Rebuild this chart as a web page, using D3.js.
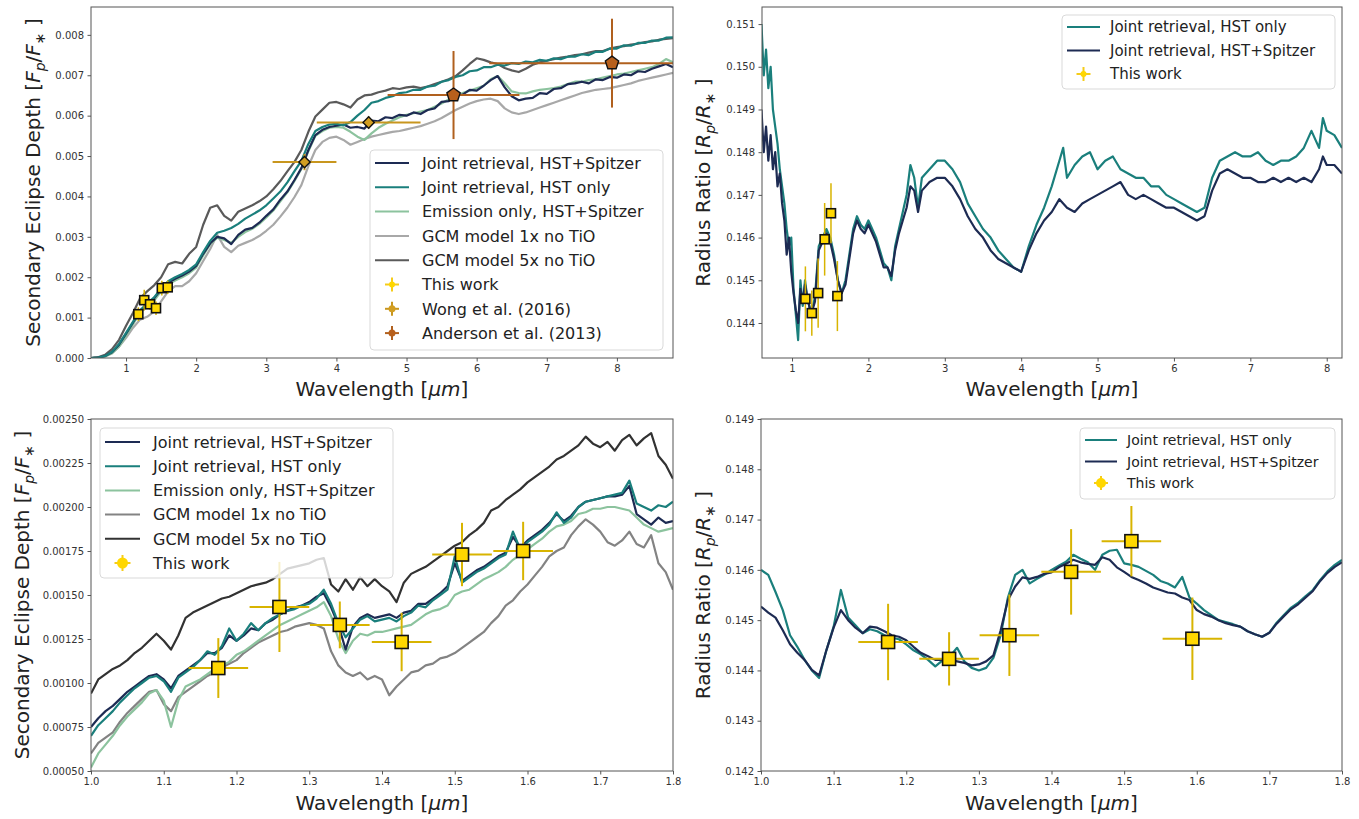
<!DOCTYPE html>
<html><head><meta charset="utf-8">
<script src="https://cdn.jsdelivr.net/npm/d3@7"></script>
<style>body{margin:0;background:#fff;} text{font-family:"DejaVu Sans",sans-serif;}</style>
</head><body>
<script>
// ---------------- DATA ----------------
// Top-left: secondary eclipse depth, full range
const tlWave = [0.5,0.6,0.7,0.8,0.9,1.0,1.1,1.2,1.3,1.4,
1.5,1.6,1.7,1.8,1.9,2.0,2.1,2.2,2.3,2.4,
2.5,2.6,2.7,2.8,2.9,3.0,3.1,3.2,3.3,3.4,
3.5,3.6,3.7,3.8,3.9,4.0,4.1,4.2,4.3,4.4,
4.5,4.6,4.7,4.8,4.9,5.0,5.1,5.2,5.3,5.4,
5.5,5.6,5.7,5.8,5.9,6.0,6.1,6.2,6.3,6.4,
6.5,6.6,6.7,6.8,6.9,7.0,7.1,7.2,7.3,7.4,
7.5,7.6,7.7,7.8,7.9,8.0,8.1,8.2,8.3,8.4,
8.5,8.6,8.7,8.8];
const tlJointHSTSpitzer = [0.00000,0.00001,0.00005,0.00014,0.00033,0.00060,0.00088,0.00116,0.00133,0.00148,
0.00170,0.00186,0.00196,0.00204,0.00214,0.00228,0.00258,0.00284,0.00300,0.00296,
0.00282,0.00305,0.00318,0.00322,0.00335,0.00352,0.00368,0.00392,0.00412,0.00440,
0.00470,0.00515,0.00552,0.00565,0.00572,0.00575,0.00578,0.00570,0.00572,0.00568,
0.00588,0.00586,0.00596,0.00594,0.00602,0.00600,0.00608,0.00604,0.00614,0.00618,
0.00634,0.00636,0.00650,0.00652,0.00664,0.00662,0.00674,0.00688,0.00698,0.00670,
0.00648,0.00638,0.00642,0.00644,0.00656,0.00654,0.00666,0.00668,0.00678,0.00680,
0.00684,0.00680,0.00690,0.00688,0.00696,0.00694,0.00702,0.00700,0.00710,0.00708,
0.00716,0.00722,0.00728,0.00720];
const tlJointHSTOnly = [0.00000,0.00001,0.00005,0.00015,0.00035,0.00062,0.00090,0.00118,0.00135,0.00150,
0.00172,0.00190,0.00200,0.00208,0.00218,0.00232,0.00262,0.00290,0.00310,0.00315,
0.00322,0.00332,0.00345,0.00355,0.00365,0.00378,0.00395,0.00412,0.00435,0.00462,
0.00488,0.00530,0.00562,0.00572,0.00578,0.00580,0.00576,0.00584,0.00600,0.00614,
0.00632,0.00636,0.00644,0.00648,0.00656,0.00658,0.00664,0.00664,0.00672,0.00674,
0.00684,0.00688,0.00696,0.00700,0.00710,0.00712,0.00720,0.00720,0.00726,0.00724,
0.00730,0.00728,0.00734,0.00732,0.00738,0.00736,0.00742,0.00740,0.00746,0.00746,
0.00752,0.00750,0.00758,0.00758,0.00766,0.00766,0.00774,0.00773,0.00780,0.00780,
0.00786,0.00786,0.00793,0.00794];
const tlEmissionOnly = [0.00000,0.00001,0.00004,0.00012,0.00028,0.00055,0.00084,0.00112,0.00128,0.00142,
0.00165,0.00182,0.00192,0.00200,0.00210,0.00224,0.00254,0.00282,0.00298,0.00292,
0.00285,0.00300,0.00312,0.00320,0.00332,0.00348,0.00365,0.00388,0.00410,0.00438,
0.00468,0.00512,0.00550,0.00562,0.00570,0.00572,0.00570,0.00560,0.00548,0.00540,
0.00556,0.00570,0.00580,0.00588,0.00596,0.00602,0.00606,0.00610,0.00614,0.00622,
0.00630,0.00640,0.00648,0.00656,0.00662,0.00668,0.00674,0.00690,0.00698,0.00680,
0.00660,0.00656,0.00655,0.00660,0.00664,0.00666,0.00668,0.00672,0.00678,0.00684,
0.00684,0.00688,0.00690,0.00694,0.00698,0.00702,0.00704,0.00708,0.00712,0.00716,
0.00720,0.00728,0.00740,0.00732];
const tlGCM1x = [0.00000,0.00001,0.00004,0.00012,0.00028,0.00050,0.00075,0.00095,0.00102,0.00115,
0.00140,0.00165,0.00178,0.00178,0.00190,0.00210,0.00240,0.00270,0.00305,0.00275,
0.00262,0.00278,0.00285,0.00292,0.00302,0.00315,0.00330,0.00350,0.00372,0.00398,
0.00428,0.00475,0.00515,0.00535,0.00545,0.00548,0.00540,0.00528,0.00535,0.00542,
0.00548,0.00552,0.00556,0.00560,0.00562,0.00566,0.00570,0.00574,0.00580,0.00586,
0.00594,0.00604,0.00614,0.00622,0.00630,0.00636,0.00640,0.00642,0.00636,0.00618,
0.00608,0.00604,0.00608,0.00614,0.00620,0.00626,0.00632,0.00638,0.00644,0.00650,
0.00656,0.00660,0.00664,0.00666,0.00668,0.00672,0.00676,0.00680,0.00686,0.00690,
0.00694,0.00698,0.00702,0.00706];
const tlGCM5x = [0.00000,0.00002,0.00008,0.00022,0.00045,0.00080,0.00112,0.00148,0.00165,0.00180,
0.00200,0.00232,0.00238,0.00234,0.00258,0.00275,0.00330,0.00372,0.00378,0.00352,
0.00340,0.00362,0.00370,0.00378,0.00388,0.00400,0.00418,0.00438,0.00462,0.00485,
0.00515,0.00560,0.00598,0.00615,0.00632,0.00634,0.00628,0.00620,0.00640,0.00650,
0.00652,0.00658,0.00662,0.00668,0.00666,0.00670,0.00672,0.00668,0.00672,0.00678,
0.00684,0.00690,0.00698,0.00712,0.00728,0.00742,0.00738,0.00732,0.00728,0.00718,
0.00712,0.00708,0.00716,0.00726,0.00732,0.00736,0.00740,0.00744,0.00746,0.00750,
0.00752,0.00756,0.00760,0.00760,0.00766,0.00770,0.00772,0.00776,0.00778,0.00782,
0.00784,0.00788,0.00790,0.00792];

// Observations
const thisWorkWave = [1.175,1.259,1.342,1.427,1.510,1.594];
const thisWorkWaveErr = [0.041,0.041,0.041,0.041,0.041,0.041];
const thisWorkDepth = [0.001085,0.001432,0.001330,0.001233,0.001730,0.001750];
const thisWorkDepthErr = [0.000170,0.000256,0.000133,0.000166,0.000180,0.000166];
const thisWorkRadius = [0.144565,0.144230,0.144700,0.145960,0.146570,0.144630];
const thisWorkRadiusErr = [0.00076,0.00053,0.00081,0.00085,0.00070,0.00082];
const wongWave = [3.545,4.46];
const wongWaveErr = [0.455,0.74];
const wongDepth = [0.00485,0.00583];
const wongDepthErr = [0.00020,0.00015];
const andersonWave = [5.67,7.93];
const andersonWaveErr = [0.94,1.75];
const andersonDepth = [0.00651,0.00730];
const andersonDepthErr = [0.00109,0.00110];

// Top-right: radius ratio, full range
const trWave = [0.60,0.63,0.66,0.69,0.72,0.75,0.78,0.81,0.84,0.87,
0.90,0.93,0.96,0.99,1.02,1.05,1.08,1.11,1.14,1.17,
1.20,1.25,1.30,1.35,1.40,1.45,1.50,1.55,1.60,1.65,
1.70,1.75,1.80,1.85,1.90,1.95,2.00,2.05,2.10,2.15,
2.20,2.25,2.30,2.35,2.40,2.45,2.50,2.55,2.60,2.65,
2.70,2.80,2.90,3.00,3.10,3.20,3.30,3.40,3.50,3.60,
3.70,3.80,3.90,4.00,4.10,4.20,4.30,4.40,4.50,4.55,
4.60,4.70,4.80,4.90,5.00,5.10,5.20,5.30,5.40,5.50,
5.60,5.70,5.80,5.90,6.00,6.10,6.20,6.30,6.40,6.50,
6.60,6.70,6.80,6.90,7.00,7.10,7.20,7.30,7.40,7.50,
7.60,7.70,7.80,7.90,7.95,8.00,8.10,8.20];
const trJointHSTOnly = [0.1510,0.1498,0.1504,0.1495,0.1500,0.1490,0.1486,0.1482,0.1476,0.1472,
0.1468,0.1462,0.1458,0.1460,0.1448,0.1442,0.1436,0.1450,0.1444,0.1450,
0.1446,0.1442,0.1446,0.1458,0.1460,0.1462,0.1460,0.1456,0.1450,0.1447,
0.1450,0.1456,0.1462,0.1465,0.1463,0.1462,0.1464,0.1462,0.1460,0.1457,
0.1454,0.1453,0.1450,0.1458,0.1462,0.1466,0.1470,0.1477,0.1474,0.1467,
0.1474,0.1476,0.1478,0.1478,0.1476,0.1473,0.1468,0.1465,0.1462,0.1460,
0.1457,0.1455,0.1453,0.1452,0.1458,0.1463,0.1467,0.1472,0.1478,0.1481,
0.1474,0.1477,0.1479,0.1480,0.1476,0.1478,0.1479,0.1476,0.1475,0.1474,
0.1474,0.1472,0.1472,0.1470,0.1469,0.1468,0.1467,0.1466,0.1467,0.1474,
0.1478,0.1479,0.1480,0.1479,0.1479,0.1480,0.1478,0.1477,0.1478,0.1478,
0.1479,0.1481,0.1485,0.1481,0.1488,0.1485,0.1484,0.1481];
const trJointHSTSpitzer = [0.1490,0.1480,0.1486,0.1478,0.1484,0.1476,0.1480,0.1472,0.1475,0.1468,
0.1464,0.1456,0.1460,0.1452,0.1447,0.1443,0.1440,0.1448,0.1445,0.1449,
0.1446,0.1442,0.1445,0.1457,0.1459,0.1461,0.1459,0.1455,0.1450,0.1447,
0.1449,0.1455,0.1461,0.1464,0.1462,0.1461,0.1463,0.1461,0.1459,0.1456,
0.1453,0.1453,0.1451,0.1457,0.1461,0.1464,0.1467,0.1472,0.1471,0.1466,
0.1471,0.1473,0.1474,0.1474,0.1472,0.1469,0.1465,0.1462,0.1460,0.1457,
0.1455,0.1454,0.1453,0.1452,0.1457,0.1461,0.1464,0.1466,0.1469,0.1468,
0.1467,0.1466,0.1468,0.1469,0.1470,0.1471,0.1472,0.1473,0.1470,0.1469,
0.1470,0.1469,0.1468,0.1467,0.1467,0.1466,0.1465,0.1464,0.1465,0.1471,
0.1475,0.1476,0.1475,0.1474,0.1474,0.1473,0.1473,0.1474,0.1473,0.1474,
0.1473,0.1474,0.1473,0.1476,0.1479,0.1477,0.1477,0.1475];

// Bottom panels: HST WFC3 range, 0.01 um grid
const bWave = [1.00,1.01,1.02,1.03,1.04,1.05,1.06,1.07,1.08,1.09,
1.10,1.11,1.12,1.13,1.14,1.15,1.16,1.17,1.18,1.19,
1.20,1.21,1.22,1.23,1.24,1.25,1.26,1.27,1.28,1.29,
1.30,1.31,1.32,1.33,1.34,1.35,1.36,1.37,1.38,1.39,
1.40,1.41,1.42,1.43,1.44,1.45,1.46,1.47,1.48,1.49,
1.50,1.51,1.52,1.53,1.54,1.55,1.56,1.57,1.58,1.59,
1.60,1.61,1.62,1.63,1.64,1.65,1.66,1.67,1.68,1.69,
1.70,1.71,1.72,1.73,1.74,1.75,1.76,1.77,1.78,1.79,
1.80];
const blJointHSTSpitzer = [0.00075,0.00080,0.00084,0.00087,0.00091,0.00095,0.00098,0.00101,0.00104,0.00105,
0.00102,0.00097,0.00104,0.00107,0.00110,0.00113,0.00117,0.00117,0.00120,0.00127,
0.00124,0.00127,0.00131,0.00130,0.00134,0.00136,0.00139,0.00141,0.00143,0.00144,
0.00146,0.00149,0.00151,0.00143,0.00133,0.00119,0.00132,0.00137,0.00139,0.00137,
0.00138,0.00139,0.00137,0.00140,0.00141,0.00145,0.00145,0.00148,0.00151,0.00155,
0.00168,0.00158,0.00161,0.00164,0.00166,0.00169,0.00172,0.00174,0.00183,0.00177,
0.00181,0.00184,0.00187,0.00191,0.00196,0.00192,0.00195,0.00200,0.00203,0.00204,
0.00205,0.00206,0.00206,0.00207,0.00212,0.00196,0.00193,0.00190,0.00194,0.00191,
0.00192];
const blJointHSTOnly = [0.00070,0.00076,0.00080,0.00084,0.00089,0.00093,0.00097,0.00100,0.00103,0.00104,
0.00101,0.00095,0.00103,0.00106,0.00109,0.00113,0.00118,0.00116,0.00121,0.00131,
0.00124,0.00128,0.00134,0.00130,0.00134,0.00137,0.00139,0.00141,0.00142,0.00144,
0.00145,0.00148,0.00153,0.00145,0.00134,0.00126,0.00131,0.00136,0.00138,0.00135,
0.00136,0.00137,0.00135,0.00138,0.00140,0.00144,0.00143,0.00147,0.00150,0.00153,
0.00172,0.00157,0.00160,0.00163,0.00165,0.00168,0.00171,0.00173,0.00186,0.00176,
0.00180,0.00183,0.00186,0.00190,0.00197,0.00191,0.00194,0.00200,0.00203,0.00204,
0.00205,0.00206,0.00207,0.00208,0.00215,0.00202,0.00200,0.00198,0.00201,0.00200,
0.00203];
const blEmissionOnly = [0.00052,0.00060,0.00065,0.00070,0.00076,0.00081,0.00085,0.00089,0.00094,0.00096,
0.00090,0.00075,0.00090,0.00098,0.00100,0.00102,0.00105,0.00108,0.00110,0.00112,
0.00116,0.00118,0.00121,0.00124,0.00127,0.00130,0.00133,0.00135,0.00137,0.00139,
0.00141,0.00143,0.00146,0.00138,0.00125,0.00117,0.00124,0.00128,0.00127,0.00129,
0.00129,0.00130,0.00131,0.00132,0.00133,0.00136,0.00139,0.00141,0.00142,0.00144,
0.00150,0.00152,0.00153,0.00156,0.00159,0.00161,0.00163,0.00166,0.00170,0.00173,
0.00176,0.00179,0.00182,0.00186,0.00189,0.00190,0.00192,0.00196,0.00197,0.00199,
0.00199,0.00200,0.00200,0.00199,0.00198,0.00194,0.00190,0.00188,0.00186,0.00187,
0.00188];
const blGCM1x = [0.00060,0.00066,0.00069,0.00072,0.00078,0.00083,0.00087,0.00091,0.00095,0.00096,
0.00088,0.00084,0.00092,0.00095,0.00098,0.00101,0.00104,0.00106,0.00109,0.00111,
0.00113,0.00117,0.00120,0.00123,0.00125,0.00127,0.00129,0.00130,0.00132,0.00133,
0.00134,0.00133,0.00131,0.00118,0.00110,0.00106,0.00104,0.00106,0.00102,0.00104,
0.00102,0.00093,0.00098,0.00102,0.00106,0.00107,0.00110,0.00111,0.00114,0.00115,
0.00117,0.00120,0.00123,0.00126,0.00129,0.00134,0.00138,0.00144,0.00147,0.00152,
0.00156,0.00161,0.00166,0.00172,0.00175,0.00177,0.00184,0.00189,0.00193,0.00190,
0.00186,0.00180,0.00178,0.00181,0.00186,0.00179,0.00177,0.00184,0.00168,0.00163,
0.00153];
const blGCM5x = [0.00094,0.00102,0.00105,0.00108,0.00110,0.00113,0.00117,0.00120,0.00124,0.00128,
0.00124,0.00119,0.00127,0.00137,0.00140,0.00142,0.00144,0.00146,0.00148,0.00149,
0.00151,0.00153,0.00155,0.00156,0.00157,0.00159,0.00162,0.00165,0.00166,0.00167,
0.00168,0.00170,0.00171,0.00156,0.00152,0.00159,0.00153,0.00160,0.00155,0.00159,
0.00155,0.00152,0.00146,0.00157,0.00162,0.00164,0.00166,0.00169,0.00172,0.00175,
0.00178,0.00180,0.00184,0.00187,0.00191,0.00198,0.00200,0.00204,0.00207,0.00210,
0.00214,0.00217,0.00220,0.00223,0.00227,0.00229,0.00232,0.00235,0.00240,0.00236,
0.00234,0.00237,0.00232,0.00238,0.00241,0.00235,0.00239,0.00242,0.00229,0.00224,
0.00216];
const brJointHSTOnly = [0.14600,0.14590,0.14556,0.14520,0.14470,0.14447,0.14421,0.14400,0.14385,0.14440,
0.14487,0.14560,0.14505,0.14490,0.14474,0.14482,0.14478,0.14470,0.14465,0.14462,
0.14452,0.14440,0.14432,0.14421,0.14408,0.14420,0.14428,0.14445,0.14418,0.14405,
0.14400,0.14405,0.14425,0.14470,0.14545,0.14590,0.14600,0.14573,0.14582,0.14590,
0.14600,0.14608,0.14616,0.14630,0.14622,0.14615,0.14600,0.14630,0.14638,0.14640,
0.14613,0.14610,0.14606,0.14598,0.14590,0.14578,0.14573,0.14565,0.14586,0.14545,
0.14533,0.14520,0.14510,0.14500,0.14496,0.14492,0.14487,0.14478,0.14472,0.14467,
0.14475,0.14495,0.14510,0.14525,0.14535,0.14548,0.14560,0.14580,0.14597,0.14610,
0.14620];
const brJointHSTSpitzer = [0.14527,0.14515,0.14505,0.14480,0.14452,0.14435,0.14421,0.14401,0.14390,0.14440,
0.14485,0.14520,0.14500,0.14485,0.14474,0.14487,0.14485,0.14478,0.14470,0.14467,
0.14460,0.14447,0.14435,0.14428,0.14421,0.14421,0.14421,0.14418,0.14415,0.14410,
0.14412,0.14418,0.14430,0.14480,0.14540,0.14567,0.14585,0.14582,0.14586,0.14592,
0.14595,0.14605,0.14612,0.14620,0.14615,0.14612,0.14610,0.14625,0.14620,0.14605,
0.14596,0.14586,0.14580,0.14573,0.14565,0.14560,0.14555,0.14553,0.14545,0.14540,
0.14520,0.14512,0.14507,0.14500,0.14494,0.14490,0.14487,0.14478,0.14472,0.14467,
0.14475,0.14493,0.14508,0.14522,0.14532,0.14545,0.14558,0.14578,0.14594,0.14606,
0.14615];

// Tick values
const tlXTicks = [1,2,3,4,5,6,7,8];
const tlYTicks = [0,0.001,0.002,0.003,0.004,0.005,0.006,0.007,0.008];
const trXTicks = [1,2,3,4,5,6,7,8];
const trYTicks = [0.144,0.145,0.146,0.147,0.148,0.149,0.150,0.151];
const bXTicks = [1.0,1.1,1.2,1.3,1.4,1.5,1.6,1.7,1.8];
const blYTicks = [0.0005,0.00075,0.001,0.00125,0.0015,0.00175,0.002,0.00225,0.0025];
const brYTicks = [0.142,0.143,0.144,0.145,0.146,0.147,0.148,0.149];

// ---------------- STYLE ----------------
const C = {
  navy:"#1d2b53", teal:"#1a7f7c", green:"#8cc39e",
  gcm1Top:"#a8a8a8", gcm5Top:"#5a5a5a", gcm1Bot:"#838383", gcm5Bot:"#323232",
  yellow:"#ffd700", yellowErr:"#d8b400", wong:"#d29e22", wongErr:"#c8961e",
  anderson:"#b8601c", andersonErr:"#b0601e", axis:"#555", tick:"#333"
};

const svg = d3.select("body").append("svg").attr("width",1359).attr("height",819);
let clipN = 0;

function mathText(sel, parts){
  parts.forEach(p=>{
    const t = sel.append("tspan").text(p.t);
    if (p.i) t.attr("font-style","italic");
    if (p.sub){ t.attr("font-size","14px").attr("dy",5); }
    if (p.up){ t.attr("dy",-5); }
  });
}

function square(g,cx,cy,s,fill){
  g.append("rect").attr("x",cx-s/2).attr("y",cy-s/2).attr("width",s).attr("height",s)
   .attr("fill",fill).attr("stroke","#111").attr("stroke-width",1.6);
}
function diamond(g,cx,cy,s,fill){
  g.append("rect").attr("x",-s/2).attr("y",-s/2).attr("width",s).attr("height",s)
   .attr("transform",`translate(${cx},${cy}) rotate(45)`)
   .attr("fill",fill).attr("stroke","#111").attr("stroke-width",1.4);
}
function pentagon(g,cx,cy,r,fill){
  const pts = [0,1,2,3,4].map(k=>{const a=(-90+72*k)*Math.PI/180;return [cx+r*Math.cos(a),cy+r*Math.sin(a)];});
  g.append("polygon").attr("points",pts.map(p=>p.join(",")).join(" "))
   .attr("fill",fill).attr("stroke","#111").attr("stroke-width",1.4);
}

function panel(o){
  const g = svg.append("g");
  const x = d3.scaleLinear().domain(o.xDomain).range([o.left,o.right]);
  const y = d3.scaleLinear().domain(o.yDomain).range([o.bottom,o.top]);
  const id = "clip"+(clipN++);
  svg.append("clipPath").attr("id",id).append("rect")
    .attr("x",o.left).attr("y",o.top).attr("width",o.right-o.left).attr("height",o.bottom-o.top);
  const plot = g.append("g").attr("clip-path",`url(#${id})`);
  const line = d3.line().x(d=>x(d[0])).y(d=>y(d[1]));
  o.series.forEach(s=>{
    plot.append("path").datum(o.wave.map((w,i)=>[w,s.values[i]]))
      .attr("d",line).attr("fill","none").attr("stroke",s.color)
      .attr("stroke-width",o.lw||2).attr("stroke-linejoin","round");
  });
  (o.obs||[]).forEach(ob=>{
    ob.wave.forEach((w,i)=>{
      const v = ob.val[i];
      plot.append("line").attr("x1",x(w-ob.werr[i])).attr("x2",x(w+ob.werr[i]))
        .attr("y1",y(v)).attr("y2",y(v)).attr("stroke",ob.errColor).attr("stroke-width",ob.ew||2);
      plot.append("line").attr("x1",x(w)).attr("x2",x(w))
        .attr("y1",y(v-ob.verr[i])).attr("y2",y(v+ob.verr[i])).attr("stroke",ob.errColor).attr("stroke-width",ob.ew||2);
    });
    ob.wave.forEach((w,i)=>{
      const cx=x(w), cy=y(ob.val[i]);
      if (ob.marker==="s") square(plot,cx,cy,ob.size,ob.color);
      else if (ob.marker==="D") diamond(plot,cx,cy,ob.size,ob.color);
      else pentagon(plot,cx,cy,ob.size,ob.color);
    });
  });
  // axes
  const ax = g.append("g").attr("transform",`translate(0,${o.bottom})`)
    .call(d3.axisBottom(x).tickValues(o.xTicks).tickFormat(o.xFmt).tickSize(3.5).tickPadding(3.5));
  const ay = g.append("g").attr("transform",`translate(${o.left},0)`)
    .call(d3.axisLeft(y).tickValues(o.yTicks).tickFormat(o.yFmt).tickSize(3.5).tickPadding(3.5));
  [ax,ay].forEach(a=>{
    a.select(".domain").remove();
    a.selectAll(".tick line").attr("stroke",C.axis);
    a.selectAll(".tick text").attr("font-size","10px").attr("fill",C.tick).attr("font-family","DejaVu Sans");
  });
  g.append("rect").attr("x",o.left).attr("y",o.top).attr("width",o.right-o.left).attr("height",o.bottom-o.top)
    .attr("fill","none").attr("stroke",C.axis).attr("stroke-width",1);
  // labels
  const xl = g.append("text").attr("x",(o.left+o.right)/2).attr("y",o.xLabelY).attr("text-anchor","middle")
    .attr("font-size","20px").attr("fill","#222");
  mathText(xl,[{t:"Wavelength ["},{t:"μm",i:true},{t:"]"}]);
  const cy = (o.top+o.bottom)/2;
  const yl = g.append("text").attr("transform",`translate(${o.yLabelX},${cy}) rotate(-90)`)
    .attr("text-anchor","middle").attr("dy","0.35em").attr("font-size","20px").attr("fill","#222");
  mathText(yl,o.yLabel);
  // legend
  const L = o.legend;
  const lg = g.append("g");
  lg.append("rect").attr("x",L.x).attr("y",L.y).attr("width",L.w).attr("height",L.h).attr("rx",4)
    .attr("fill","#fff").attr("fill-opacity",0.8).attr("stroke","#d0d0d0").attr("stroke-opacity",0.8);
  L.items.forEach((it,i)=>{
    const ry = L.row0 + i*L.step;
    if (it.kind==="line"){
      lg.append("line").attr("x1",L.hx1).attr("x2",L.hx2).attr("y1",ry).attr("y2",ry)
        .attr("stroke",it.color).attr("stroke-width",2);
    } else {
      const hc=(L.hx1+L.hx2)/2, a=it.arm;
      lg.append("line").attr("x1",hc-a).attr("x2",hc+a).attr("y1",ry).attr("y2",ry).attr("stroke",it.err).attr("stroke-width",2);
      lg.append("line").attr("x1",hc).attr("x2",hc).attr("y1",ry-a).attr("y2",ry+a).attr("stroke",it.err).attr("stroke-width",2);
      lg.append("circle").attr("cx",hc).attr("cy",ry).attr("r",it.r).attr("fill",it.color);
    }
    lg.append("text").attr("x",L.tx).attr("y",ry).attr("dy","0.36em").attr("font-size",L.fs).attr("fill","#222").text(it.label);
  });
}

const depthLabel = [{t:"Secondary Eclipse Depth ["},{t:"F",i:true},{t:"p",i:true,sub:true},{t:"/",up:true},{t:"F",i:true},{t:"∗",sub:true},{t:" ]",up:true}];
const radiusLabel = [{t:"Radius Ratio ["},{t:"R",i:true},{t:"p",i:true,sub:true},{t:"/",up:true},{t:"R",i:true},{t:"∗",sub:true},{t:" ]",up:true}];

// ---- Top-left
panel({
  left:91,right:673,top:7,bottom:358,xDomain:[0.5,8.8],yDomain:[0,0.00869],lw:2.2,
  wave:tlWave,
  series:[
    {values:tlGCM1x,color:C.gcm1Top},
    {values:tlGCM5x,color:C.gcm5Top},
    {values:tlEmissionOnly,color:C.green},
    {values:tlJointHSTSpitzer,color:C.navy},
    {values:tlJointHSTOnly,color:C.teal}
  ],
  obs:[
    {wave:thisWorkWave,werr:thisWorkWaveErr,val:thisWorkDepth,verr:thisWorkDepthErr,marker:"s",size:9,color:C.yellow,errColor:C.yellowErr,ew:1.5},
    {wave:wongWave,werr:wongWaveErr,val:wongDepth,verr:wongDepthErr,marker:"D",size:8,color:C.wong,errColor:C.wongErr,ew:2},
    {wave:andersonWave,werr:andersonWaveErr,val:andersonDepth,verr:andersonDepthErr,marker:"p",size:7,color:C.anderson,errColor:C.andersonErr,ew:2}
  ],
  xTicks:tlXTicks,yTicks:tlYTicks,xFmt:d3.format("d"),yFmt:d3.format(".3f"),
  xLabelY:396,yLabelX:33,yLabel:depthLabel,
  legend:{x:370,y:150,w:293,h:200,row0:163,step:24.3,hx1:375,hx2:409,tx:422,fs:"16px",items:[
    {kind:"line",color:C.navy,label:"Joint retrieval, HST+Spitzer"},
    {kind:"line",color:C.teal,label:"Joint retrieval, HST only"},
    {kind:"line",color:C.green,label:"Emission only, HST+Spitzer"},
    {kind:"line",color:C.gcm1Top,label:"GCM model 1x no TiO"},
    {kind:"line",color:C.gcm5Top,label:"GCM model 5x no TiO"},
    {kind:"err",color:C.yellow,err:"#f5cc1a",arm:7,r:3,label:"This work"},
    {kind:"err",color:C.wong,err:C.wongErr,arm:7,r:3.5,label:"Wong et al. (2016)"},
    {kind:"err",color:C.anderson,err:C.andersonErr,arm:7,r:3.5,label:"Anderson et al. (2013)"}
  ]}
});

// ---- Top-right
panel({
  left:762,right:1342,top:7,bottom:358,xDomain:[0.607,8.2],yDomain:[0.14318,0.1514],lw:2.2,
  wave:trWave,
  series:[
    {values:trJointHSTOnly,color:C.teal},
    {values:trJointHSTSpitzer,color:C.navy}
  ],
  obs:[
    {wave:thisWorkWave,werr:thisWorkWaveErr,val:thisWorkRadius,verr:thisWorkRadiusErr,marker:"s",size:9,color:C.yellow,errColor:C.yellowErr,ew:1.5}
  ],
  xTicks:trXTicks,yTicks:trYTicks,xFmt:d3.format("d"),yFmt:d3.format(".3f"),
  xLabelY:396,yLabelX:703,yLabel:radiusLabel,
  legend:{x:1062,y:15,w:273,h:74,row0:27,step:23.5,hx1:1067,hx2:1100,tx:1110,fs:"15px",items:[
    {kind:"line",color:C.teal,label:"Joint retrieval, HST only"},
    {kind:"line",color:C.navy,label:"Joint retrieval, HST+Spitzer"},
    {kind:"err",color:C.yellow,err:"#f5cc1a",arm:7,r:3,label:"This work"}
  ]}
});

// ---- Bottom-left
panel({
  left:91,right:673,top:419,bottom:771,xDomain:[1.0,1.8],yDomain:[0.0005,0.0025],lw:2.2,
  wave:bWave,
  series:[
    {values:blGCM1x,color:C.gcm1Bot},
    {values:blGCM5x,color:C.gcm5Bot},
    {values:blEmissionOnly,color:C.green},
    {values:blJointHSTSpitzer,color:C.navy},
    {values:blJointHSTOnly,color:C.teal}
  ],
  obs:[
    {wave:thisWorkWave,werr:thisWorkWaveErr,val:thisWorkDepth,verr:thisWorkDepthErr,marker:"s",size:13,color:C.yellow,errColor:C.yellowErr,ew:2}
  ],
  xTicks:bXTicks,yTicks:blYTicks,xFmt:d3.format(".1f"),yFmt:d3.format(".5f"),
  xLabelY:810,yLabelX:22,yLabel:depthLabel,
  legend:{x:100,y:428,w:293,h:150,row0:442,step:24.2,hx1:105,hx2:140,tx:153,fs:"16px",items:[
    {kind:"line",color:C.navy,label:"Joint retrieval, HST+Spitzer"},
    {kind:"line",color:C.teal,label:"Joint retrieval, HST only"},
    {kind:"line",color:C.green,label:"Emission only, HST+Spitzer"},
    {kind:"line",color:C.gcm1Bot,label:"GCM model 1x no TiO"},
    {kind:"line",color:C.gcm5Bot,label:"GCM model 5x no TiO"},
    {kind:"err",color:C.yellow,err:"#f5cc1a",arm:8,r:5.5,label:"This work"}
  ]}
});

// ---- Bottom-right
panel({
  left:761,right:1342,top:419,bottom:771,xDomain:[1.0,1.8],yDomain:[0.142,0.149],lw:2.2,
  wave:bWave,
  series:[
    {values:brJointHSTOnly,color:C.teal},
    {values:brJointHSTSpitzer,color:C.navy}
  ],
  obs:[
    {wave:thisWorkWave,werr:thisWorkWaveErr,val:thisWorkRadius,verr:thisWorkRadiusErr,marker:"s",size:13,color:C.yellow,errColor:C.yellowErr,ew:2}
  ],
  xTicks:bXTicks,yTicks:brYTicks,xFmt:d3.format(".1f"),yFmt:d3.format(".3f"),
  xLabelY:810,yLabelX:703,yLabel:radiusLabel,
  legend:{x:1080,y:428,w:255,h:71,row0:440,step:21.5,hx1:1085,hx2:1117,tx:1127,fs:"14px",items:[
    {kind:"line",color:C.teal,label:"Joint retrieval, HST only"},
    {kind:"line",color:C.navy,label:"Joint retrieval, HST+Spitzer"},
    {kind:"err",color:C.yellow,err:"#f5cc1a",arm:7,r:5,label:"This work"}
  ]}
});
</script>
</body></html>
